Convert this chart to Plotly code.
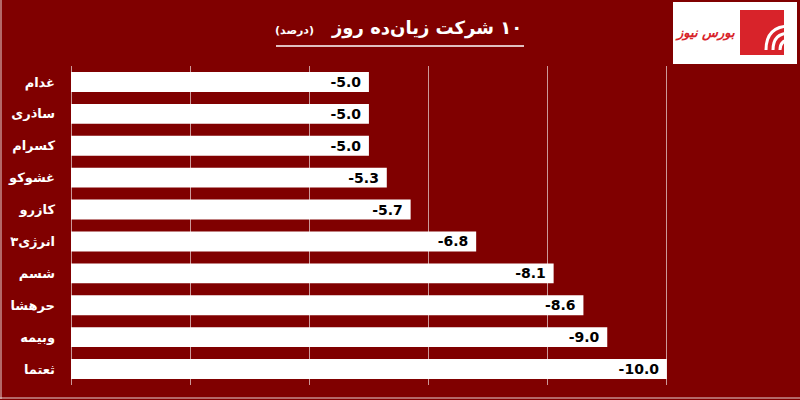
import plotly.graph_objects as go

# data
symbols = ['غدام', 'ساذری', 'کسرام', 'غشوکو', 'کازرو', 'انرژی۳', 'شسم', 'حرهشا', 'وبیمه', 'ثعتما']
changes = [-5.0, -5.0, -5.0, -5.3, -5.7, -6.8, -8.1, -8.6, -9.0, -10.0]
labels = ['%.1f\u00a0' % v for v in changes]

BG = '#800000'
GRID = 'rgba(255,255,255,0.6)'
RLM = '\u200f'

# plot area in pixels (left, right, top, bottom)
L, R, T, B = 71, 786, 66, 385


def px(x):
    return (x - L) / (R - L)


def py(y):
    return (B - y) / (B - T)


fig = go.Figure()
fig.add_trace(go.Bar(
    x=changes,
    y=symbols,
    orientation='h',
    marker=dict(color='white', line=dict(width=0)),
    text=labels,
    textposition='inside',
    insidetextanchor='end',
    constraintext='none',
    textangle=0,
    textfont=dict(family='DejaVu Sans', size=14, color='black', weight='bold'),
    hoverinfo='skip',
))

fig.update_xaxes(range=[0, -12], dtick=2, showticklabels=False, ticks='',
                 showgrid=True, gridcolor=GRID, gridwidth=1,
                 zeroline=True, zerolinecolor=GRID, zerolinewidth=1,
                 showline=False, fixedrange=True, automargin=False)
fig.update_yaxes(autorange='reversed', showgrid=False, ticks='', showline=False,
                 tickfont=dict(family='DejaVu Sans', size=13, color='white', weight='bold'),
                 ticklabelstandoff=15, fixedrange=True, automargin=False)

shapes = [
    # title underline
    dict(type='line', xref='paper', yref='paper', x0=px(276), x1=px(524), y0=py(46), y1=py(46),
         line=dict(color='white', width=1.5)),
    # logo box
    dict(type='rect', xref='paper', yref='paper', x0=px(673), x1=px(797), y0=py(2), y1=py(64),
         fillcolor='white', line=dict(width=0), layer='above'),
    dict(type='rect', xref='paper', yref='paper', x0=px(740), x1=px(784), y0=py(10), y1=py(55),
         fillcolor='#d8232a', line=dict(width=0), layer='above'),
    # frame lines
    dict(type='line', xref='paper', yref='paper', x0=px(1), x1=px(1), y0=py(0), y1=py(399),
         line=dict(color='#e8d0d0', width=1)),
    dict(type='line', xref='paper', yref='paper', x0=px(0), x1=px(800), y0=py(398), y1=py(398),
         line=dict(color='#e8d0d0', width=1)),
]
# white arcs in the logo square
for r in (10, 17, 24):
    cx, cy = 790, 50
    x0, y0 = px(cx - r), py(cy)
    x1, y1 = px(cx), py(cy - r)
    shapes.append(dict(type='path', xref='paper', yref='paper', layer='above',
                       path='M %f,%f Q %f,%f %f,%f' % (x0, y0, x0, y1, x1, y1),
                       line=dict(color='white', width=3)))

annotations = [
    dict(text=RLM + '<b>۱۰ شرکت زیان‌ده روز</b>', xref='paper', yref='paper',
         x=px(524), y=py(28), xanchor='right', yanchor='middle', showarrow=False,
         font=dict(family='DejaVu Sans', size=18, color='white')),
    dict(text=RLM + '<b>(درصد)</b>', xref='paper', yref='paper',
         x=px(316), y=py(30), xanchor='right', yanchor='middle', showarrow=False,
         font=dict(family='DejaVu Sans', size=11, color='white')),
    dict(text='<b><i>بورس نیوز</i></b>', xref='paper', yref='paper',
         x=px(737), y=py(33), xanchor='right', yanchor='middle', showarrow=False,
         font=dict(family='DejaVu Sans', size=13, color='#d8232a')),
]

fig.update_layout(
    width=800, height=400,
    margin=dict(l=L, r=800 - R, t=T, b=400 - B, pad=0, autoexpand=False),
    paper_bgcolor=BG, plot_bgcolor=BG,
    bargap=0.375,
    showlegend=False,
    shapes=shapes,
    annotations=annotations,
)

fig.write_html('out.html', config={'displayModeBar': False},
               post_script="document.body.style.margin='0';")
